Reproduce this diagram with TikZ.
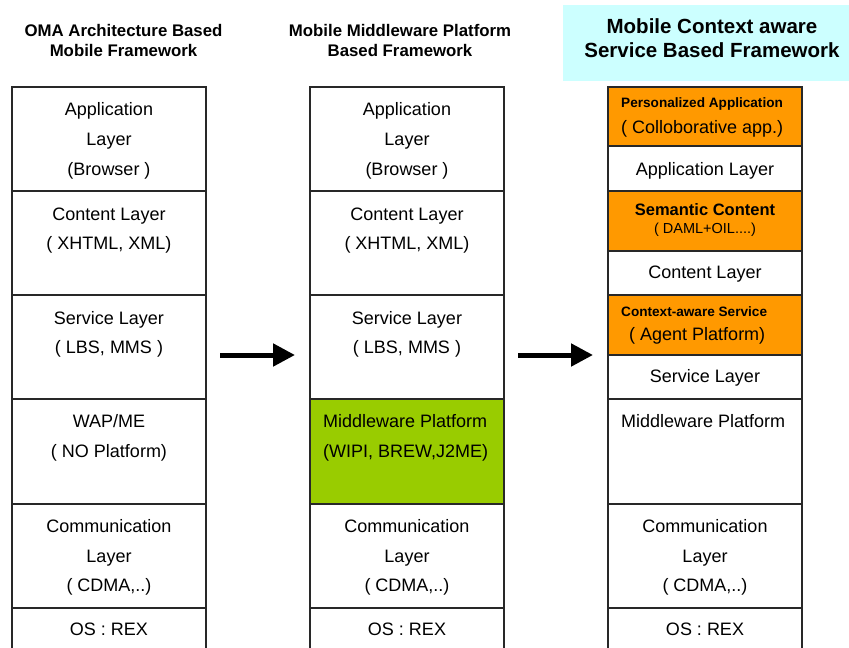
\documentclass[tikz,border=0pt]{standalone}
\usepackage{fontspec}
\setmainfont{Liberation Sans}
\usetikzlibrary{arrows.meta}
\definecolor{orng}{RGB}{255,153,0}
\definecolor{grn}{RGB}{153,204,0}
\definecolor{cyn}{RGB}{204,255,255}
\definecolor{edge}{RGB}{40,40,40}
\begin{document}
\begin{tikzpicture}[x=1pt,y=-1pt,
 box/.style={draw=edge, line width=1.3pt, anchor=north west, inner sep=0, outer sep=0, minimum width=194pt},
 t/.style={font=\fontsize{18}{20}\selectfont, anchor=base, inner sep=0},
 tl/.style={t, anchor=base west},
 tb/.style={font=\bfseries\fontsize{13.6}{16}\selectfont, anchor=base west, inner sep=0},
 ttl/.style={font=\bfseries\fontsize{16.8}{20}\selectfont, anchor=base, inner sep=0},
 arr/.style={line width=5pt, -{Triangle[length=22pt,width=22pt]}}]
\useasboundingbox (0,0) rectangle (849,648);
\clip (0,0) rectangle (849,648);

% titles
\node[ttl] (t1a) at (123.5,36) {OMA Architecture Based};
\node[ttl] (t1b) at (123.5,56) {Mobile Framework};
\node[ttl] (t2a) at (400,36) {Mobile Middleware Platform};
\node[ttl] (t2b) at (400,56) {Based Framework};
\node[fill=cyn, anchor=north west, minimum width=290pt, minimum height=76pt, inner sep=0] (tbg) at (563,5) {};
\node[ttl, font=\bfseries\fontsize{20.5}{24}\selectfont] (t3a) at (712,33) {Mobile Context aware};
\node[ttl, font=\bfseries\fontsize{20.5}{24}\selectfont] (t3b) at (712,57) {Service Based Framework};

% column 1
\node[box, minimum height=104pt] (c1a) at (12,87) {};
\node[box, minimum height=104pt] (c1b) at (12,191) {};
\node[box, minimum height=104pt] (c1c) at (12,295) {};
\node[box, minimum height=105pt] (c1d) at (12,399) {};
\node[box, minimum height=104pt] (c1e) at (12,504) {};
\node[box, minimum height=60pt] (c1f) at (12,608) {};
\node[t] (c1a1) at (109,115) {Application};
\node[t] (c1a2) at (109,145) {Layer};
\node[t] (c1a3) at (109,175) {(Browser )};
\node[t] (c1b1) at (109,220) {Content Layer};
\node[t] (c1b2) at (109,249) {( XHTML, XML)};
\node[t] (c1c1) at (109,324) {Service Layer};
\node[t] (c1c2) at (109,353) {( LBS, MMS )};
\node[t] (c1d1) at (109,427) {WAP/ME};
\node[t] (c1d2) at (109,457) {( NO Platform)};
\node[t] (c1e1) at (109,532) {Communication};
\node[t] (c1e2) at (109,562) {Layer};
\node[t] (c1e3) at (109,591) {( CDMA,..)};
\node[t] (c1f1) at (109,635) {OS : REX};

% column 2
\node[box, minimum height=104pt] (c2a) at (310,87) {};
\node[box, minimum height=104pt] (c2b) at (310,191) {};
\node[box, minimum height=104pt] (c2c) at (310,295) {};
\node[box, minimum height=105pt, fill=grn] (c2d) at (310,399) {};
\node[box, minimum height=104pt] (c2e) at (310,504) {};
\node[box, minimum height=60pt] (c2f) at (310,608) {};
\node[t] (c2a1) at (407,115) {Application};
\node[t] (c2a2) at (407,145) {Layer};
\node[t] (c2a3) at (407,175) {(Browser )};
\node[t] (c2b1) at (407,220) {Content Layer};
\node[t] (c2b2) at (407,249) {( XHTML, XML)};
\node[t] (c2c1) at (407,324) {Service Layer};
\node[t] (c2c2) at (407,353) {( LBS, MMS )};
\node[tl] (c2d1) at (323,427) {Middleware Platform};
\node[tl] (c2d2) at (323,457) {(WIPI, BREW,J2ME)};
\node[t] (c2e1) at (407,532) {Communication};
\node[t] (c2e2) at (407,562) {Layer};
\node[t] (c2e3) at (407,591) {( CDMA,..)};
\node[t] (c2f1) at (407,635) {OS : REX};

% column 3
\node[box, minimum height=59pt, fill=orng] (c3a) at (608,87) {};
\node[box, minimum height=45pt] (c3b) at (608,146) {};
\node[box, minimum height=60pt, fill=orng] (c3c) at (608,191) {};
\node[box, minimum height=44pt] (c3d) at (608,251) {};
\node[box, minimum height=60pt, fill=orng] (c3e) at (608,295) {};
\node[box, minimum height=44pt] (c3f) at (608,355) {};
\node[box, minimum height=105pt] (c3g) at (608,399) {};
\node[box, minimum height=104pt] (c3h) at (608,504) {};
\node[box, minimum height=60pt] (c3i) at (608,608) {};
\node[tb] (c3a1) at (621,107) {Personalized Application};
\node[tl] (c3a2) at (621,133) {( Colloborative app.)};
\node[t] (c3b1) at (705,175) {Application Layer};
\node[t, font=\bfseries\fontsize{16.5}{20}\selectfont] (c3c1) at (705,215) {Semantic Content};
\node[t, font=\fontsize{14.5}{17}\selectfont] (c3c2) at (705,233) {( DAML+OIL....)};
\node[t] (c3d1) at (705,278) {Content Layer};
\node[tb] (c3e1) at (621,316) {Context-aware Service};
\node[tl] (c3e2) at (629,340) {( Agent Platform)};
\node[t] (c3f1) at (705,382) {Service Layer};
\node[tl] (c3g1) at (621,427) {Middleware Platform};
\node[t] (c3h1) at (705,532) {Communication};
\node[t] (c3h2) at (705,562) {Layer};
\node[t] (c3h3) at (705,591) {( CDMA,..)};
\node[t] (c3i1) at (705,635) {OS : REX};

% arrows
\coordinate (a1s) at (220,355);
\coordinate (a1e) at (295,355);
\coordinate (a2s) at (518,355);
\coordinate (a2e) at (593,355);
\draw[arr] (a1s) -- (a1e);
\draw[arr] (a2s) -- (a2e);
\end{tikzpicture}
\end{document}
